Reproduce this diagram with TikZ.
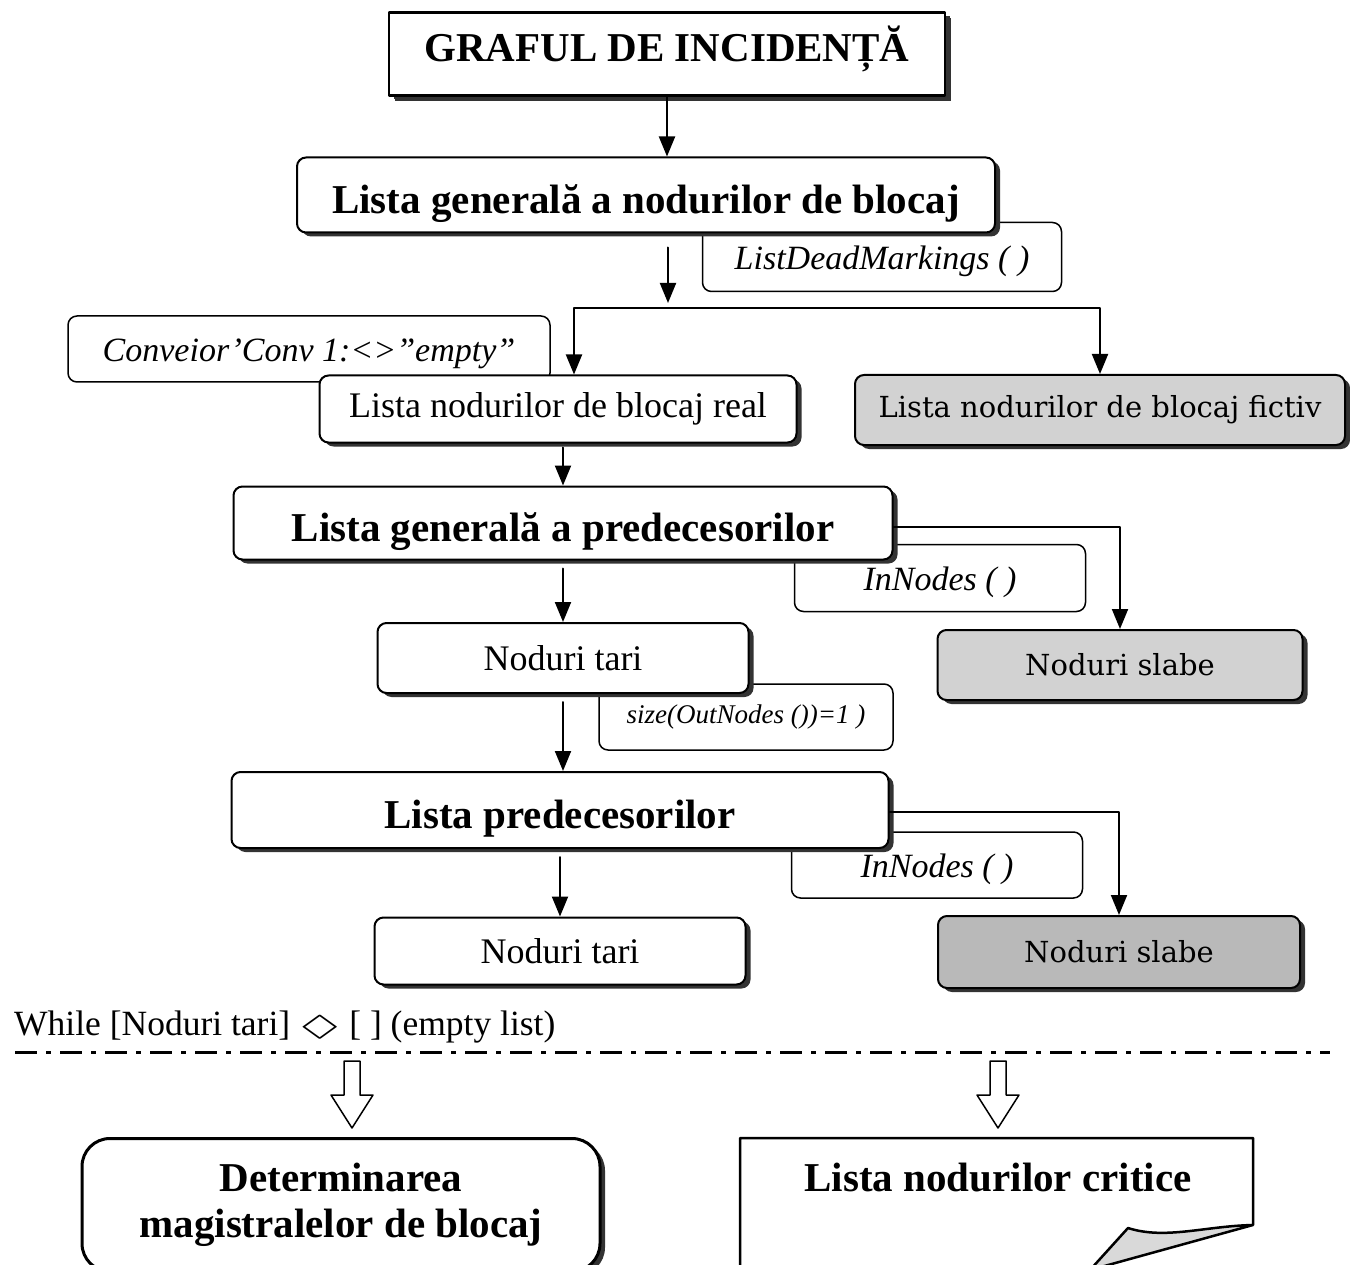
\documentclass[tikz,border=0pt]{standalone}
\usepackage{amssymb}
\usepackage{fontspec}
\setmainfont{Liberation Serif}
\newfontfamily\greyfont{DejaVu Serif}
\usetikzlibrary{arrows.meta,shadows}

\begin{document}
\begin{tikzpicture}[x=1pt, y=-1pt, line join=round, line cap=round,
	arr/.style={line width=2pt, -{Triangle[length=20pt,width=16pt]}},
	shd/.style={drop shadow={shadow xshift=5pt, shadow yshift=-4pt, fill=black!80, opacity=1}},
	box/.style={draw, line width=2pt, rounded corners=9pt, fill=white, inner sep=0pt, shd},
	big/.style={box, text height=37pt, text depth=0pt, font=\fontsize{41}{46}\selectfont\bfseries},
	mid/.style={box, font=\fontsize{36}{40}\selectfont},
	grey/.style={box, fill=gray!35, font=\greyfont\fontsize{29}{33}\selectfont},
	tag/.style={draw, line width=1.5pt, rounded corners=9pt, fill=white, inner sep=0pt,
		text height=25pt, text depth=0pt, font=\fontsize{34}{38}\selectfont\itshape}]
	\useasboundingbox (0,0) rectangle (1350,1265);
	\clip (0,0) rectangle (1350,1265);
	
	% labels behind the lists
	\node[tag, minimum width=359, minimum height=69] (ldm) at (882,257) {ListDeadMarkings ( )};
	\node[tag, minimum width=482, minimum height=66] (conv) at (309,349) {Conveior’Conv 1:<>”empty”};
	\node[tag, minimum width=291, minimum height=67] (inn1) at (940,578) {InNodes ( )};
	\node[tag, minimum width=294, minimum height=66, text height=19pt, text depth=6pt,
		font=\fontsize{27}{30}\selectfont\itshape] (size) at (746,717) {size(OutNodes ())=1 )};
	\node[tag, minimum width=291, minimum height=66] (inn2) at (937,865) {InNodes ( )};
	
	% lists
	\node[big, rounded corners=0pt, line width=2.5pt, minimum width=556, minimum height=83,
		text height=30pt, text depth=14pt,
		drop shadow={shadow xshift=6pt, shadow yshift=-6pt, fill=black!80, opacity=1}] (title) at (667,54) {GRAFUL DE INCIDENȚĂ};
	\node[big, minimum width=698, minimum height=75] (gen) at (646,195) {Lista generală a nodurilor de blocaj};
	\node[mid, minimum width=477, minimum height=67] (real) at (558,409) {Lista nodurilor de blocaj real};
	\node[grey, minimum width=490, minimum height=70] (fictiv) at (1100,410) {Lista nodurilor de blocaj fictiv};
	\node[big, minimum width=659, minimum height=73] (gpred) at (563,523) {Lista generală a predecesorilor};
	\node[mid, minimum width=371, minimum height=70] (tari1) at (563,658) {Noduri tari};
	\node[grey, minimum width=365, minimum height=70] (slabe1) at (1120,665) {Noduri slabe};
	\node[big, minimum width=657, minimum height=76] (pred) at (560,810) {Lista predecesorilor};
	\node[mid, minimum width=371, minimum height=67] (tari2) at (560,951) {Noduri tari};
	\node[grey, fill=gray!55, minimum width=362, minimum height=72] (slabe2) at (1119,952) {Noduri slabe};
	
	\path (668,308) coordinate (fork);
	\draw[arr] (title.south) -- (title.south |- gen.north);
	\draw[arr, shorten <=14pt, shorten >=5pt] (gen.south -| fork) -- (fork);
	\draw[arr] (fork) -| ([xshift=16pt]real.north);
	\draw[arr] (fork) -| (fictiv.north);
	\draw[arr, shorten <=4pt] (real.south -| gpred.north) -- (gpred.north);
	\draw[arr] ([yshift=-4pt]gpred.east) -| (slabe1.north);
	\draw[arr, shorten <=8pt] (gpred.south -| tari1.north) -- (tari1.north);
	\draw[arr, shorten <=8pt] (tari1.south) -- (tari1.south |- pred.north);
	\draw[arr] ([yshift=-2pt]pred.east) -| (slabe2.north);
	\draw[arr, shorten <=8pt] (pred.south) -- (pred.south |- tari2.north);
	
	% loop condition
	\node[anchor=west, inner sep=0pt, font=\fontsize{35.5}{38}\selectfont] (loop) at (14,1027)
		{While [Noduri tari] \scalebox{1.75}[0.8]{$\Diamond$} [ ] (empty list)};
	\path (15,1052) coordinate (sepL) (1330,1052) coordinate (sepR)
		(352,1061) coordinate (hl) (998,1061) coordinate (hr);
	\draw[line width=3pt, line cap=butt, dash pattern=on 22pt off 9pt on 5pt off 9pt] (sepL) -- (sepR);
	\foreach \p in {hl,hr}
	\draw[line width=1.5pt, fill=white] (\p) ++(-8,0) -- ++(16,0) -- ++(0,34) -- ++(13,0)
		-- ++(-21,33) -- ++(-21,-33) -- ++(13,0) -- cycle;
	
	% results
	\node[draw, line width=3pt, rounded corners=28pt, fill=white, minimum width=518, minimum height=133,
		align=center, shd, font=\fontsize{41}{46}\selectfont\bfseries] (det) at (341,1205)
		{Determinarea\\magistralelor de blocaj};
	\path (740,1138) coordinate (dNW) (1253,1138) coordinate (dNE) (1253,1225) coordinate (dE)
		(1128,1228) coordinate (fold) (1090,1270) coordinate (tip);
	\fill[gray!30] (fold) .. controls (1165,1240) and (1205,1226) .. (dE) -- (tip) -- cycle;
	\draw[line width=2.5pt] (740,1275) -- (dNW) -- (dNE) -- (dE) -- (tip) -- (fold)
		.. controls (1165,1240) and (1205,1226) .. (dE);
	\node[font=\fontsize{41}{46}\selectfont\bfseries] (crit) at (998,1178) {Lista nodurilor critice};
\end{tikzpicture}
\end{document}
